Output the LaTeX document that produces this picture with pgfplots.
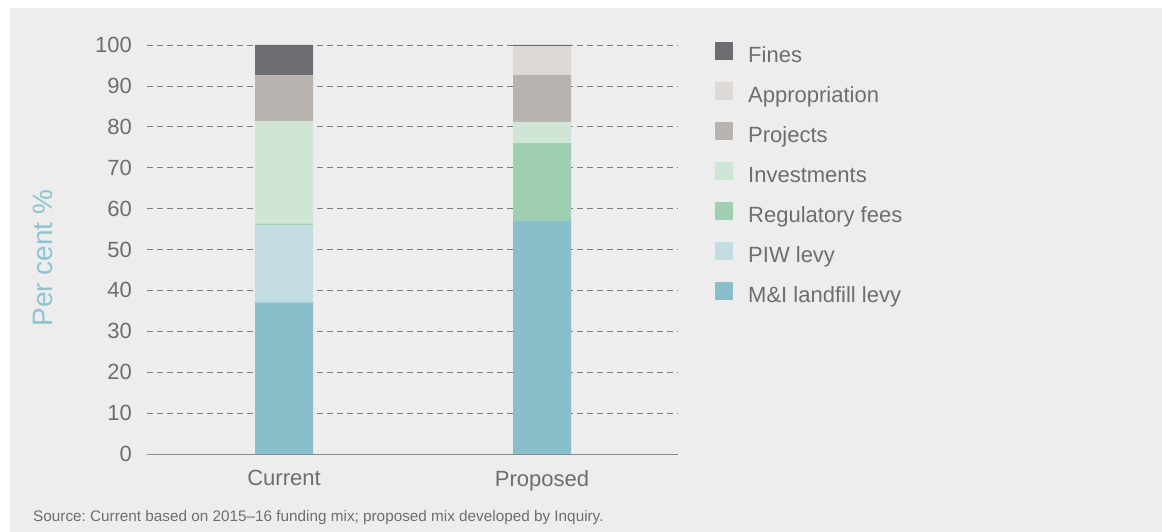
\documentclass[border=0pt]{standalone}
\usepackage{fontspec}
\setmainfont{Liberation Sans}
\usepackage{pgfplots}
\pgfplotsset{compat=1.18}
\frenchspacing
\definecolor{bgc}{HTML}{EDEDED}
\definecolor{txt}{HTML}{6D6E71}
\definecolor{ylab}{HTML}{8EC4D2}
\definecolor{cFines}{HTML}{6D6E72}
\definecolor{cApp}{HTML}{DCD9D6}
\definecolor{cProj}{HTML}{B8B3AF}
\definecolor{cInv}{HTML}{CFE5D5}
\definecolor{cReg}{HTML}{9FCFB0}
\definecolor{cPIW}{HTML}{C2DCE2}
\definecolor{cMI}{HTML}{89BFCB}
\begin{document}
\begin{tikzpicture}
\useasboundingbox (0pt,0pt) rectangle (1162pt,532pt);
\fill[white] (0pt,0pt) rectangle (1162pt,532pt);
\fill[bgc] (10pt,0pt) rectangle (1162pt,524pt);
\begin{axis}[
  at={(147pt,78pt)}, anchor=south west,
  scale only axis, width=531pt, height=409pt,
  ybar stacked, bar width=58pt,
  xmin=-0.531, xmax=1.527, ymin=0, ymax=100,
  xtick={0,1}, xticklabels={Current,Proposed},
  ytick={0,10,...,100},
  major tick length=0pt,
  axis lines=left, axis line style={-},
  x axis line style={draw=black!45, line width=0.8pt},
  y axis line style={draw=none},
  ymajorgrids, grid style={draw=black!50, dash pattern=on 6pt off 4pt, line width=0.7pt},
  /pgf/number format/assume math mode=true,
  tick label style={font=\fontsize{22}{26}\selectfont, text=txt},
  yticklabel style={inner sep=0pt, xshift=-15pt},
  xticklabel style={inner sep=0pt, yshift=-16pt},
  ylabel={Per cent \%},
  ylabel style={at={(axis description cs:-0.196,0.479)}, anchor=center, rotate=0, font=\fontsize{28}{32}\selectfont, text=ylab},
  clip=false,
  reverse legend,
  legend cell align=left,
  legend style={at={(axis description cs:1.0697,1.0073)}, anchor=north west,
    draw=none, fill=none, inner sep=0pt, row sep=14.5pt,
    font=\fontsize{22}{26}\selectfont, text=txt,
    nodes={inner sep=0pt, text height=15pt, text depth=5pt},
    /tikz/every odd column/.append style={column sep=15pt}},
  legend image code/.code={\fill[#1] (0pt,-2.5pt) rectangle (18pt,15.5pt);},
]
\addplot[fill=cMI, draw=none] coordinates {(0,37) (1,57)};
\addlegendentry{M\&I landfill levy}
\addplot[fill=cPIW, draw=none] coordinates {(0,19) (1,0)};
\addlegendentry{PIW levy}
\addplot[fill=cReg, draw=none] coordinates {(0,0.3) (1,19)};
\addlegendentry{Regulatory fees}
\addplot[fill=cInv, draw=none] coordinates {(0,25) (1,5.2)};
\addlegendentry{Investments}
\addplot[fill=cProj, draw=none] coordinates {(0,11.3) (1,11.5)};
\addlegendentry{Projects}
\addplot[fill=cApp, draw=none] coordinates {(0,0) (1,7)};
\addlegendentry{Appropriation}
\addplot[fill=cFines, draw=none] coordinates {(0,7.4) (1,0.3)};
\addlegendentry{Fines}
\end{axis}
\node[anchor=base west, inner sep=0pt, text=txt, font=\fontsize{15.3}{18}\selectfont] at (33pt,10pt) {Source: Current based on 2015--16 funding mix; proposed mix developed by Inquiry.};
\end{tikzpicture}
\end{document}
